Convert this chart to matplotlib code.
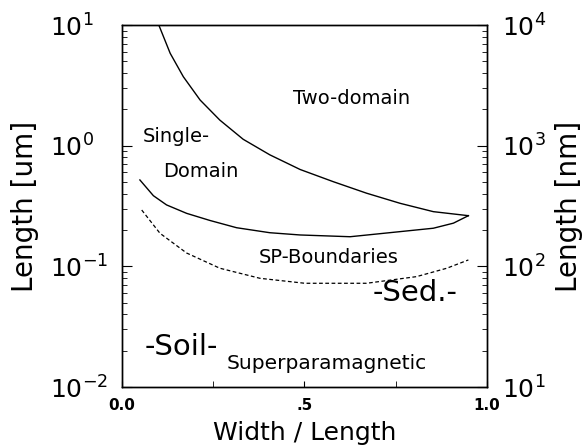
import matplotlib
matplotlib.use("Agg")
import matplotlib.pyplot as plt
from matplotlib.ticker import LogLocator, FixedLocator, FixedFormatter, NullFormatter

# upper boundary: single-domain / two-domain
x_two = [0.102, 0.132, 0.168, 0.214, 0.268, 0.332, 0.405, 0.488, 0.579, 0.670, 0.762, 0.853, 0.949]
y_two = [9.8, 5.83, 3.73, 2.39, 1.63, 1.13, 0.84, 0.635, 0.503, 0.404, 0.333, 0.284, 0.263]

# lower solid boundary: single-domain / SP
x_sd = [0.049, 0.086, 0.122, 0.177, 0.241, 0.314, 0.405, 0.488, 0.625, 0.762, 0.853, 0.908, 0.949]
y_sd = [0.52, 0.385, 0.323, 0.275, 0.240, 0.209, 0.190, 0.182, 0.176, 0.194, 0.207, 0.228, 0.263]

# dashed SP boundary
x_sp = [0.054, 0.104, 0.177, 0.268, 0.378, 0.501, 0.670, 0.807, 0.890, 0.949]
y_sp = [0.293, 0.188, 0.129, 0.0965, 0.0796, 0.0724, 0.0724, 0.0822, 0.0965, 0.113]

xticks = [0.0, 0.5, 1.0]
xticklabels = ["0.0", ".5", "1.0"]

fig = plt.figure(figsize=(5.88, 4.47), dpi=100)
ax = fig.add_axes([0.2075, 0.1342, 0.6207, 0.8098])

ax.plot(x_two, y_two, color="black", lw=1.0)
ax.plot(x_sd, y_sd, color="black", lw=1.0)
ax.plot(x_sp, y_sp, color="black", lw=0.9, linestyle=(0, (3, 2)))

ax.set_yscale("log")
ax.set_xlim(0, 1)
ax.set_ylim(0.01, 10)

ax.xaxis.set_major_locator(FixedLocator(xticks))
ax.xaxis.set_major_formatter(FixedFormatter(xticklabels))
ax.xaxis.set_minor_locator(FixedLocator([0.25, 0.75]))
ax.tick_params(axis="x", which="both", direction="in", length=4, labelsize=11, pad=8)
ax.tick_params(axis="y", which="major", direction="in", length=7, labelsize=18, pad=52)
ax.tick_params(axis="y", which="minor", direction="in", length=3.5)
ax.yaxis.set_minor_locator(LogLocator(base=10, subs=range(2, 10)))
ax.yaxis.set_minor_formatter(NullFormatter())
for lab in ax.get_xticklabels():
    lab.set_fontweight("bold")
for lab in ax.get_yticklabels():
    lab.set_horizontalalignment("left")

ax.set_xlabel("Width / Length", fontsize=18, labelpad=6)
ax.set_ylabel("Length [um]", fontsize=20, labelpad=8)

ax2 = ax.twinx()
ax2.set_yscale("log")
ax2.set_ylim(10, 10000)
ax2.yaxis.set_minor_locator(LogLocator(base=10, subs=range(2, 10)))
ax2.yaxis.set_minor_formatter(NullFormatter())
ax2.tick_params(axis="y", which="major", direction="in", length=7, labelsize=18, pad=11)
ax2.tick_params(axis="y", which="minor", direction="in", length=3.5)
ax2.set_ylabel("Length [nm]", fontsize=20, labelpad=6)

for a in (ax, ax2):
    for s in a.spines.values():
        s.set_linewidth(1.0)

ax.text(0.63, 2.48, "Two-domain", fontsize=14, ha="center", va="center")
ax.text(0.057, 1.19, "Single-", fontsize=14, ha="left", va="center")
ax.text(0.113, 0.609, "Domain", fontsize=14, ha="left", va="center")
ax.text(0.567, 0.1175, "SP-Boundaries", fontsize=14, ha="center", va="center")
ax.text(0.803, 0.0599, "-Sed.-", fontsize=21, ha="center", va="center")
ax.text(0.163, 0.0216, "-Soil-", fontsize=21, ha="center", va="center")
ax.text(0.561, 0.01574, "Superparamagnetic", fontsize=14.5, ha="center", va="center")

fig.savefig("out.png", dpi=100)
